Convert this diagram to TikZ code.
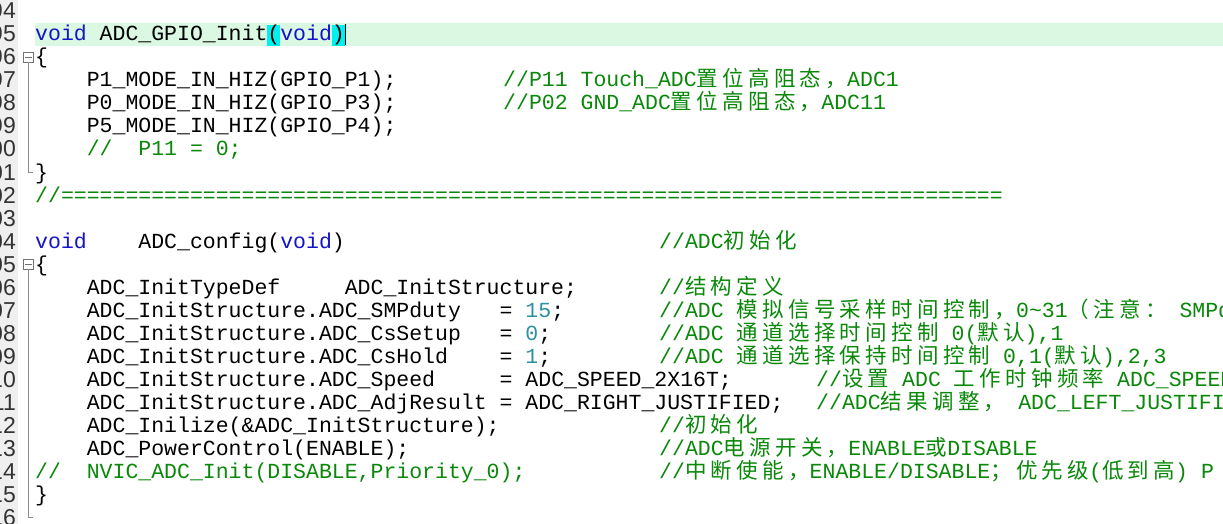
\documentclass[tikz,border=0pt]{standalone}
\usepackage{fontspec}
\newfontfamily\code{Liberation Mono}
\newfontfamily\numf{Liberation Sans}
\newfontfamily\cjk{Noto Sans CJK SC}[LetterSpace=20]
\definecolor{kw}{HTML}{1414C8}
\definecolor{cm}{HTML}{0A880A}
\definecolor{nm}{HTML}{2C90A0}
\definecolor{curline}{HTML}{DAF8E2}
\definecolor{gut}{HTML}{EFEFEF}
\definecolor{brh}{HTML}{00F0F0}
\newcommand{\kw}[1]{\textcolor{kw}{#1}}
\newcommand{\nm}[1]{\textcolor{nm}{#1}}
\newcommand{\C}[1]{{\cjk #1}}
\newcommand{\hlb}[1]{{\setlength{\fboxsep}{0pt}\colorbox{brh}{\rule[-5pt]{0pt}{21pt}#1}}}
\tikzset{
  codeline/.style={anchor=base west,inner sep=0pt,font=\code\fontsize{21.5}{21.5}\selectfont},
  cmline/.style={codeline,text=cm},
  lnum/.style={anchor=base east,inner sep=0pt,text=black!80,font=\numf\fontsize{23}{23}\selectfont},
  fold/.style={draw=black!45,line width=0.8pt}
}
\begin{document}
\begin{tikzpicture}[x=1pt,y=-1pt]
\useasboundingbox (0,0) rectangle (1223,524);
\fill[white] (0,0) rectangle (1223,524);
\fill[gut] (0,0) rectangle (18,524);
\fill[curline] (35,23) rectangle (1223,46);
% line numbers
\foreach \n [count=\i from 0] in {94,95,96,97,98,99,100,101,102,103,104,105,106,107,108,109,110,111,112,113,114,115,116} {
  \node[lnum] (ln\i) at (16,{11+23*\i+8}) {\n};
}
% fold markers
\node[draw=black!55,fill=white,minimum size=10pt,inner sep=0pt] (f1) at (28,57) {};
\draw[black!55] (24.5,57) -- (31.5,57);
\coordinate (f1e) at (33,172);
\draw[fold] (f1.south) |- (f1e);
\node[draw=black!55,fill=white,minimum size=10pt,inner sep=0pt] (f2) at (28,264) {};
\draw[black!55] (24.5,264) -- (31.5,264);
\coordinate (f2e) at (33,517);
\draw[fold] (f2.south) |- (f2e);
% code
\def\cx{35}
\def\ix{86.6}
\node[codeline] (l5) at (\cx,41) {\kw{void} ADC\_GPIO\_Init\hlb{(}\kw{void}\hlb{)}};
\draw[black,line width=1pt] (345,24) -- (345,45);
\node[codeline] (l6) at (\cx,64) {\{};
\node[codeline] (l7) at (\ix,87) {P1\_MODE\_IN\_HIZ(GPIO\_P1);};
\node[cmline] (c7) at (503,87) {//P11 Touch\_ADC\C{置位高阻态，}ADC1};
\node[codeline] (l8) at (\ix,110) {P0\_MODE\_IN\_HIZ(GPIO\_P3);};
\node[cmline] (c8) at (503,110) {//P02 GND\_ADC\C{置位高阻态，}ADC11};
\node[codeline] (l9) at (\ix,133) {P5\_MODE\_IN\_HIZ(GPIO\_P4);};
\node[cmline] (l10) at (\ix,156) {//~~P11 = 0;};
\node[codeline] (l11) at (\cx,179) {\}};
\node[cmline] (l12) at (\cx,202) {//=========================================================================};
\node[codeline] (l14) at (\cx,248) {\kw{void}~~~~ADC\_config(\kw{void})};
\node[cmline] (c14) at (659,248) {//ADC\C{初始化}};
\node[codeline] (l15) at (\cx,271) {\{};
\node[codeline] (l16) at (\ix,294) {ADC\_InitTypeDef~~~~~ADC\_InitStructure;};
\node[cmline] (c16) at (659,294) {//\C{结构定义}};
\node[codeline] (l17) at (\ix,317) {ADC\_InitStructure.ADC\_SMPduty~~~= \nm{15};};
\node[cmline] (c17) at (659,317) {//ADC \C{模拟信号采样时间控制，}0\textasciitilde31\C{（注意：}~SMPduty};
\node[codeline] (l18) at (\ix,340) {ADC\_InitStructure.ADC\_CsSetup~~~= \nm{0};};
\node[cmline] (c18) at (659,340) {//ADC \C{通道选择时间控制} 0(\C{默认}),1};
\node[codeline] (l19) at (\ix,363) {ADC\_InitStructure.ADC\_CsHold~~~~= \nm{1};};
\node[cmline] (c19) at (659,363) {//ADC \C{通道选择保持时间控制} 0,1(\C{默认}),2,3};
\node[codeline] (l20) at (\ix,386) {ADC\_InitStructure.ADC\_Speed~~~~~= ADC\_SPEED\_2X16T;};
\node[cmline] (c20) at (816,386) {//\C{设置} ADC \C{工作时钟频率} ADC\_SPEED};
\node[codeline] (l21) at (\ix,409) {ADC\_InitStructure.ADC\_AdjResult = ADC\_RIGHT\_JUSTIFIED;};
\node[cmline] (c21) at (816,409) {//ADC\C{结果调整，}~ADC\_LEFT\_JUSTIFIED};
\node[codeline] (l22) at (\ix,432) {ADC\_Inilize(\&ADC\_InitStructure);};
\node[cmline] (c22) at (659,432) {//\C{初始化}};
\node[codeline] (l23) at (\ix,455) {ADC\_PowerControl(ENABLE);};
\node[cmline] (c23) at (659,455) {//ADC\C{电源开关，}ENABLE\C{或}DISABLE};
\node[cmline] (l24) at (\cx,478) {//~~NVIC\_ADC\_Init(DISABLE,Priority\_0);};
\node[cmline] (c24) at (659,478) {//\C{中断使能，}ENABLE/DISABLE\C{；优先级}(\C{低到高}) P};
\node[codeline] (l25) at (\cx,501) {\}};
\end{tikzpicture}
\end{document}
